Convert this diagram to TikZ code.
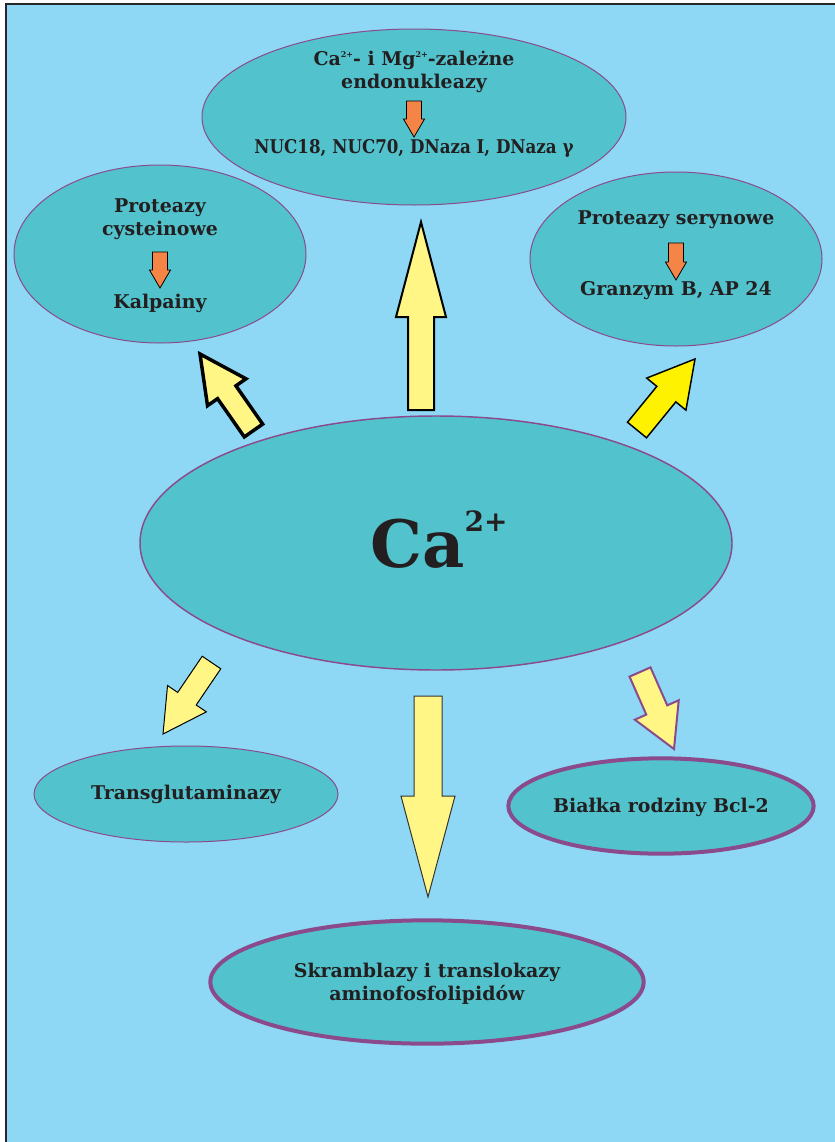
\documentclass[tikz,border=0pt]{standalone}
\usepackage{fontspec}
\setmainfont{DejaVu Serif}
\usetikzlibrary{shapes.geometric,calc}

\definecolor{bgblue}{RGB}{142,216,245}
\definecolor{ellteal}{RGB}{82,195,205}
\definecolor{ellpurple}{RGB}{139,74,140}
\definecolor{paleyellow}{RGB}{255,246,133}
\definecolor{brightyellow}{RGB}{255,242,0}
\definecolor{arrorange}{RGB}{245,132,71}
\definecolor{txtgray}{RGB}{35,31,32}

\tikzset{
  cell/.style={ellipse,fill=ellteal,draw=ellpurple,line width=0.75pt,inner sep=0pt},
  cellthick/.style={cell,line width=3pt},
  lbl/.style={font=\fontsize{14.2}{17.25}\selectfont\bfseries,text=txtgray,align=center,inner sep=0pt},
  smallarr/.style={fill=arrorange,draw=black,line width=0.6pt,line join=miter},
  bigarr/.style={fill=paleyellow,draw=black,line width=1.5pt,line join=miter}
}

% block arrow: style, tail, tip, half shaft, half head, head length
\newcommand{\blockarrow}[6]{%
  \coordinate (ba-head) at ($(#3)!#6!(#2)$);
  \draw[#1] ($(#2)!#4!90:(#3)$)
    -- ($(ba-head)!#4!-90:(#2)$)
    -- ($(ba-head)!#5!-90:(#2)$)
    -- (#3)
    -- ($(ba-head)!#5!90:(#2)$)
    -- ($(ba-head)!#4!90:(#2)$)
    -- ($(#2)!#4!-90:(#3)$) -- cycle;}
\newcommand{\sups}[1]{\raisebox{0.75ex}{\fontsize{6}{6}\selectfont #1}}

\begin{document}
\begin{tikzpicture}[x=0.75pt,y=-0.75pt]
\useasboundingbox (0,0) rectangle (835,1142);
\fill[bgblue] (6,4) rectangle (835,1142);
\draw[line width=1.5pt,color=black!85] (6,1142) -- (6,4) -- (835,4);

% ellipses
\node[cell,minimum width=318pt,minimum height=132pt] (endo) at (414,117) {};
\node[cell,minimum width=219pt,minimum height=133.5pt] (cyst) at (160,254) {};
\node[cell,minimum width=219pt,minimum height=130.5pt] (seryn) at (676,259) {};
\node[cell,line width=1.1pt,minimum width=444pt,minimum height=190.5pt] (ca) at (436,543) {};
\node[cell,minimum width=228pt,minimum height=72pt] (trans) at (186,794) {};
\node[cellthick,minimum width=229pt,minimum height=71.5pt] (bcl) at (661,806) {};
\node[cellthick,minimum width=325pt,minimum height=92.5pt] (skram) at (427,982) {};

% texts
\node[lbl] (endo-t) at (414,71.5) {Ca\sups{2+}- i Mg\sups{2+}-zależne\\endonukleazy};
\node[lbl] (endo-b) at (414,148) {\scalebox{0.88}[1]{NUC18, NUC70, DNaza I, DNaza γ}};
\node[lbl] (cyst-t) at (160,219.5) {Proteazy\\cysteinowe};
\node[lbl] (cyst-b) at (160,303) {Kalpainy};
\node[lbl] (seryn-t) at (676,220) {Proteazy serynowe};
\node[lbl] (seryn-b) at (676,291) {Granzym B, AP 24};
\node[lbl] (trans-t) at (186,794) {Transglutaminazy};
\node[lbl] (bcl-t) at (661,807) {Białka rodziny Bcl-2};
\node[lbl] (skram-t) at (427,983.5) {Skramblazy i translokazy\\aminofosfolipidów};
\node[anchor=base west,inner sep=0pt,text=txtgray] (ca-t) at (370,567)
  {\fontsize{49}{49}\selectfont\bfseries Ca\raisebox{27pt}{\fontsize{21}{21}\selectfont 2+}};

% small orange arrows
\coordinate (o1a) at (414,101); \coordinate (o1b) at (414,137);
\coordinate (o2a) at (160,252); \coordinate (o2b) at (160,288);
\coordinate (o3a) at (676,243); \coordinate (o3b) at (676,280);
\blockarrow{smallarr}{o1a}{o1b}{5.6pt}{7.9pt}{13.5pt}
\blockarrow{smallarr}{o2a}{o2b}{5.6pt}{7.9pt}{13.5pt}
\blockarrow{smallarr}{o3a}{o3b}{5.6pt}{7.9pt}{13.5pt}

% yellow arrows
\coordinate (up-a) at (421,410);     \coordinate (up-b) at (421,222);
\coordinate (dn-a) at (428,696);     \coordinate (dn-b) at (428,897);
\coordinate (tl-a) at (253.5,430.5); \coordinate (tl-b) at (200,354);
\coordinate (tr-a) at (637,430);     \coordinate (tr-b) at (695,359);
\coordinate (bl-a) at (211.5,662.5); \coordinate (bl-b) at (163,734);
\coordinate (br-a) at (640,672);     \coordinate (br-b) at (674,749);
\blockarrow{bigarr}{up-a}{up-b}{9.75pt}{18.75pt}{71.25pt}
\blockarrow{bigarr,draw=black!80,line width=0.75pt}{dn-a}{dn-b}{10.5pt}{20.25pt}{75.75pt}
\blockarrow{bigarr,line width=2.6pt}{tl-a}{tl-b}{8.4pt}{17.6pt}{35pt}
\blockarrow{bigarr,fill=brightyellow,line width=1.1pt}{tr-a}{tr-b}{9.2pt}{19pt}{34pt}
\blockarrow{bigarr,line width=0.75pt}{bl-a}{bl-b}{8.4pt}{17.6pt}{32pt}
\blockarrow{bigarr,draw=ellpurple,line width=1.5pt}{br-a}{br-b}{8.6pt}{18pt}{32pt}
\end{tikzpicture}
\end{document}
